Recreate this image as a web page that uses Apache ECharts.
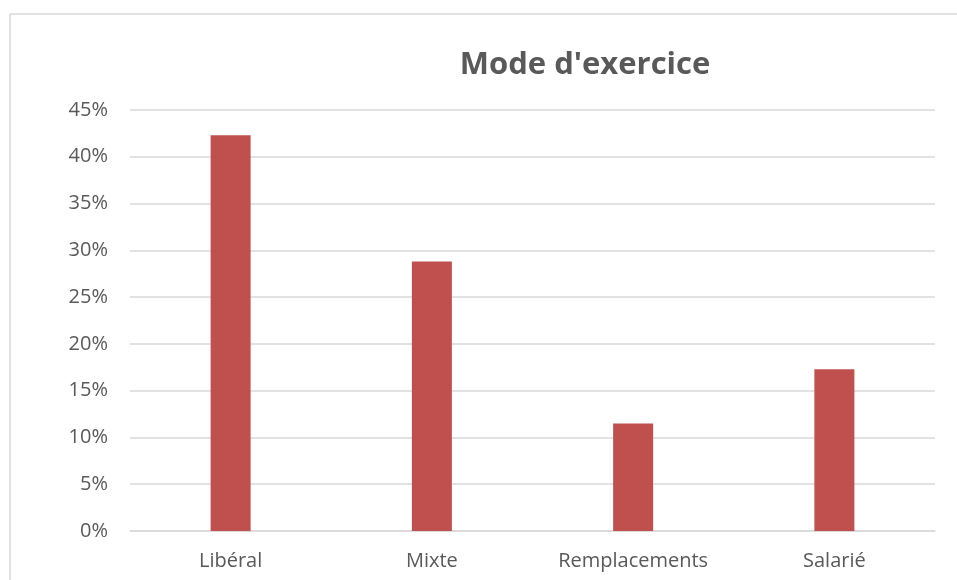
<!DOCTYPE html>
<html lang="fr">
<head>
    <meta charset="UTF-8">
    <title>Mode d'exercice</title>
    <script src="https://cdn.jsdelivr.net/npm/echarts@6/dist/echarts.min.js"></script>
    <style>
        html, body { margin: 0; padding: 0; background: #fff; }
        #chartBox { width: 957px; height: 580px; }
    </style>
</head>
<body>
    <div id="chartBox"></div>
    <script>
        var categories = ['Libéral', 'Mixte', 'Remplacements', 'Salarié'];
        var shares = [42.3, 28.8, 11.5, 17.3];
        var yTicks = [0, 5, 10, 15, 20, 25, 30, 35, 40, 45];

        var chart = echarts.init(document.getElementById('chartBox'));
        var option = {
            animation: false,
            graphic: [{
                type: 'rect',
                shape: { x: 10, y: 14, width: 1000, height: 600 },
                style: { fill: 'none', stroke: '#d9d9d9', lineWidth: 1.5 }
            }],
            title: {
                text: "Mode d'exercice",
                left: 580,
                top: 45,
                textAlign: 'center',
                textStyle: {
                    fontFamily: 'Open Sans',
                    fontSize: 31,
                    fontWeight: 'bold',
                    color: '#595959'
                }
            },
            grid: {
                left: 130,
                right: 22,
                top: 110,
                bottom: 49,
                containLabel: false
            },
            xAxis: {
                type: 'category',
                data: categories,
                axisTick: { show: false },
                axisLine: { lineStyle: { color: '#d9d9d9', width: 1.5 } },
                axisLabel: {
                    color: '#595959',
                    fontFamily: 'Open Sans',
                    fontSize: 20,
                    margin: 20
                }
            },
            yAxis: {
                type: 'value',
                min: yTicks[0],
                max: yTicks[yTicks.length - 1],
                interval: 5,
                axisLine: { show: false },
                axisTick: { show: false },
                splitLine: { lineStyle: { color: '#d9d9d9', width: 1.5 } },
                axisLabel: {
                    color: '#595959',
                    fontFamily: 'Open Sans',
                    fontSize: 20,
                    margin: 22,
                    formatter: '{value}%'
                }
            },
            series: [{
                type: 'bar',
                data: shares,
                barWidth: 40,
                itemStyle: { color: '#c0504d' }
            }]
        };
        chart.setOption(option);
    </script>
</body>
</html>
